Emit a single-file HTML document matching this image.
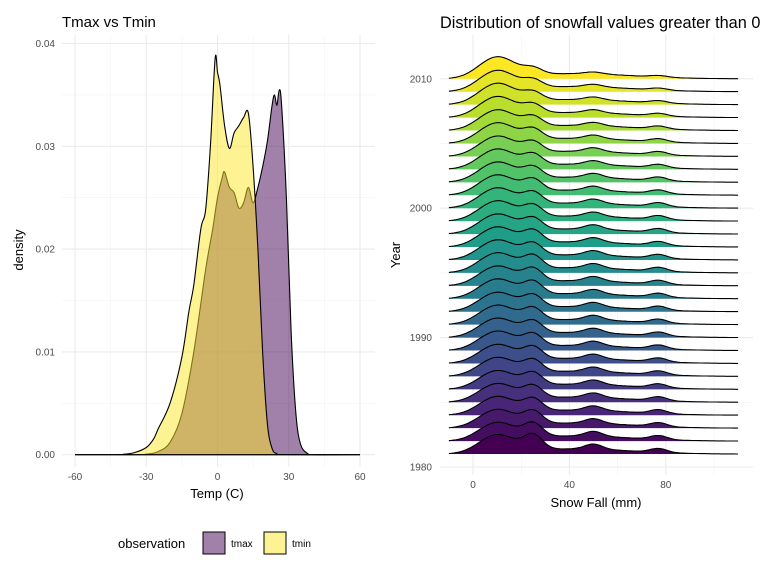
<!DOCTYPE html>
<html><head><meta charset="utf-8"><style>
body{margin:0;background:#fff;font-family:"Liberation Sans",sans-serif}
svg text{font-family:"Liberation Sans",sans-serif}
</style></head><body>
<svg id="c" width="768" height="576" xmlns="http://www.w3.org/2000/svg">
<g id="left"></g>
<g id="right"></g>
</svg>
<script>
// ---- left chart data ----
const tempX   = [-60,-45,-40,-35,-30,-27,-25,-20,-15,-12,-10,-7,-5,-3,-1,0,1,3,5,7,9,11,13,15,17,19,21,23,25,28,60];
const tminD   = [0,0,0.00003,0.0002,0.0007,0.0015,0.0025,0.005,0.0095,0.014,0.0165,0.022,0.0238,0.03,0.0385,0.0372,0.036,0.032,0.0298,0.0313,0.032,0.0328,0.0332,0.028,0.02,0.01,0.003,0.0006,0.0001,0,0];
const tmaxX   = [-60,-35,-30,-25,-20,-15,-10,-5,-2,0,2,3,5,7,9,11,13,15,17,19,21,23,24,25,26,27,29,31,33,35,38,40,60];
const tmaxD   = [0,0,0.00005,0.0003,0.0012,0.004,0.01,0.018,0.022,0.025,0.027,0.0275,0.026,0.0255,0.024,0.0245,0.026,0.0245,0.026,0.028,0.0305,0.034,0.035,0.034,0.0355,0.034,0.025,0.012,0.004,0.001,0.0001,0,0];
const xTicks  = [-60,-30,0,30,60];
const yTicks  = [0,0.01,0.02,0.03,0.04];
// ---- right chart data ----
const years   = [1981,1982,1983,1984,1985,1986,1987,1988,1989,1990,1991,1992,1993,1994,1995,1996,1997,1998,1999,2000,2001,2002,2003,2004,2005,2006,2007,2008,2009,2010];
const peak10  = [1.35,1.3,1.3,1.3,1.3,1.3,1.32,1.32,1.35,1.35,1.35,1.35,1.38,1.38,1.4,1.4,1.4,1.4,1.42,1.42,1.42,1.42,1.42,1.42,1.45,1.45,1.48,1.5,1.5,1.55];
const peak25  = [1.1,1.0,0.95,0.9,0.9,0.9,0.9,0.9,0.9,0.9,0.9,0.9,0.95,0.95,0.95,0.9,0.9,0.85,0.85,0.85,0.85,0.8,0.8,0.75,0.75,0.7,0.65,0.6,0.55,0.45];
const peak50  = [0.4,0.38,0.36,0.35,0.35,0.35,0.35,0.35,0.35,0.35,0.35,0.35,0.35,0.35,0.35,0.35,0.35,0.35,0.33,0.33,0.33,0.32,0.3,0.3,0.28,0.26,0.24,0.22,0.2,0.15];
const peak77  = [0.3,0.3,0.3,0.3,0.3,0.3,0.3,0.3,0.3,0.3,0.3,0.3,0.3,0.3,0.3,0.3,0.3,0.3,0.3,0.3,0.28,0.28,0.26,0.25,0.24,0.22,0.2,0.18,0.15,0.12];
const snowTicks = [0,40,80];
const yearTicks = [1980,1990,2000,2010];

const NS='http://www.w3.org/2000/svg';
function mk(parent,tag,attrs,txt){const e=document.createElementNS(NS,tag);for(const k in attrs)e.setAttribute(k,attrs[k]);if(txt!==undefined)e.textContent=txt;parent.appendChild(e);return e;}
function smooth(pts){let d='M'+pts[0][0].toFixed(1)+','+pts[0][1].toFixed(1);
 for(let i=0;i<pts.length-1;i++){const p0=pts[Math.max(i-1,0)],p1=pts[i],p2=pts[i+1],p3=pts[Math.min(i+2,pts.length-1)];
  const c1=[p1[0]+(p2[0]-p0[0])/6,p1[1]+(p2[1]-p0[1])/6],c2=[p2[0]-(p3[0]-p1[0])/6,p2[1]-(p3[1]-p1[1])/6];
  d+=' C'+c1[0].toFixed(1)+','+c1[1].toFixed(1)+' '+c2[0].toFixed(1)+','+c2[1].toFixed(1)+' '+p2[0].toFixed(1)+','+p2[1].toFixed(1);}
 return d;}

// ===== LEFT =====
const L=document.getElementById('left');
const lx=v=>217.5+v*2.375, ly=v=>454.7-v*10280;
[-45,-15,15,45].forEach(v=>{const e=mk(L,'line',{x1:lx(v),x2:lx(v),y1:35,y2:467,stroke:'#f2f2f2','stroke-width':0.6});});
[0.005,0.015,0.025,0.035].forEach(v=>{const e=mk(L,'line',{x1:62,x2:375,y1:ly(v),y2:ly(v),stroke:'#f2f2f2','stroke-width':0.6});});
xTicks.forEach(v=>{const e=mk(L,'line',{x1:lx(v),x2:lx(v),y1:35,y2:467,stroke:'#ebebeb','stroke-width':1.1});
 const t=mk(L,'text',{x:lx(v),y:480,'font-size':10,fill:'#4d4d4d','text-anchor':'middle'},String(v));});
yTicks.forEach(v=>{const e=mk(L,'line',{x1:62,x2:375,y1:ly(v),y2:ly(v),stroke:'#ebebeb','stroke-width':1.1});
 const t=mk(L,'text',{x:55,y:ly(v)+3.5,'font-size':10,fill:'#4d4d4d','text-anchor':'end'},v.toFixed(2));});
function area(xs,ds){const pts=xs.map((x,i)=>[lx(x),ly(ds[i])]);return smooth(pts)+' Z';}
const pmax=mk(L,'path',{d:area(tmaxX,tmaxD),fill:'rgba(68,1,84,0.5)',stroke:'#000','stroke-width':1.1});

const pmin=mk(L,'path',{d:area(tempX,tminD),fill:'rgba(253,231,37,0.5)',stroke:'#000','stroke-width':1.1});

let t;
t=mk(L,'text',{x:62,y:27,'font-size':15,fill:'#000'},'Tmax vs Tmin');
t=mk(L,'text',{x:217,y:498,'font-size':13,fill:'#000','text-anchor':'middle'},'Temp (C)');
t=mk(L,'text',{x:0,y:0,'font-size':13,fill:'#000','text-anchor':'middle',transform:'translate(23,250) rotate(-90)'},'density');
t=mk(L,'text',{x:118,y:548,'font-size':13,fill:'#000'},'observation');
t=mk(L,'rect',{x:203,y:532,width:22,height:22,fill:'rgba(68,1,84,0.5)',stroke:'#000','stroke-width':1});
t=mk(L,'text',{x:231,y:547,'font-size':10,fill:'#000'},'tmax');
t=mk(L,'rect',{x:264,y:532,width:22,height:22,fill:'rgba(253,231,37,0.5)',stroke:'#000','stroke-width':1});
t=mk(L,'text',{x:292,y:547,'font-size':10,fill:'#000'},'tmin');

// ===== RIGHT =====
const R=document.getElementById('right');
const rx=v=>473+v*2.41, ry=y=>467-(y-1980)*12.94, rowH=12.94;
[20,60,100].forEach(v=>{const e=mk(R,'line',{x1:rx(v),x2:rx(v),y1:35,y2:475,stroke:'#f2f2f2','stroke-width':0.6});});
[1985,1995,2005].forEach(v=>{const e=mk(R,'line',{x1:440,x2:753,y1:ry(v),y2:ry(v),stroke:'#f2f2f2','stroke-width':0.6});});
snowTicks.forEach(v=>{const e=mk(R,'line',{x1:rx(v),x2:rx(v),y1:35,y2:475,stroke:'#ebebeb','stroke-width':1.1});
 const t=mk(R,'text',{x:rx(v),y:488,'font-size':10,fill:'#4d4d4d','text-anchor':'middle'},String(v));});
yearTicks.forEach(v=>{const e=mk(R,'line',{x1:440,x2:753,y1:ry(v),y2:ry(v),stroke:'#ebebeb','stroke-width':1.1});
 const t=mk(R,'text',{x:432,y:ry(v)+3.5,'font-size':10,fill:'#4d4d4d','text-anchor':'end'},String(v));});
const vir=[[68,1,84],[72,40,120],[62,74,137],[49,104,142],[38,130,142],[31,158,137],[53,183,121],[109,205,89],[180,222,44],[253,231,37]];
function viridis(f){const p=f*(vir.length-1),i=Math.min(Math.floor(p),vir.length-2),r=p-i;const c=vir[i].map((a,k)=>Math.round(a+(vir[i+1][k]-a)*r));return 'rgb('+c.join(',')+')';}
const g=(x,m,s)=>Math.exp(-(x-m)*(x-m)/(2*s*s));
const sig=x=>1/(1+Math.exp(-(x+1)/3));
for(let i=years.length-1;i>=0;i--){
  const base=ry(years[i]);const pts=[];
  for(let x=-10;x<=110;x+=1){
    const h=peak10[i]*g(x,10,7.5)+peak25[i]*g(x,25,3.8)+peak50[i]*g(x,50,3.6)+peak77[i]*g(x,77,3.5)+0.4*g(x,42,24)*sig(x);
    pts.push([rx(x),base-h*rowH]);
  }
  let d='M'+pts[0][0].toFixed(1)+','+pts[0][1].toFixed(1);pts.forEach(p=>d+=' L'+p[0].toFixed(1)+','+p[1].toFixed(1));
  const fill=mk(R,'path',{d:d+' L'+rx(110)+','+base+' L'+rx(-10)+','+base+'Z',fill:viridis(i/(years.length-1)),stroke:'none'});
  
  const line=mk(R,'path',{d:d,fill:'none',stroke:'#000','stroke-width':1.1});
  
}
t=mk(R,'text',{x:440,y:28,'font-size':16.3,fill:'#000'},'Distribution of snowfall values greater than 0');
t=mk(R,'text',{x:596,y:507,'font-size':13,fill:'#000','text-anchor':'middle'},'Snow Fall (mm)');
t=mk(R,'text',{x:0,y:0,'font-size':13,fill:'#000','text-anchor':'middle',transform:'translate(400,255) rotate(-90)'},'Year');
</script>
</body></html>
